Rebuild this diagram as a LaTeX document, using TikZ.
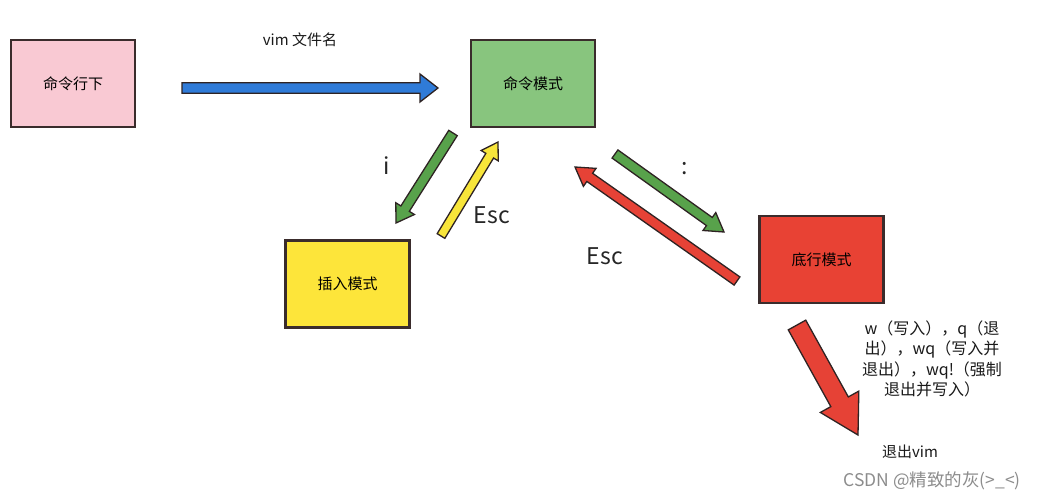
\documentclass[tikz,border=0pt]{standalone}
\usepackage{fontspec}
\setmainfont{Noto Sans CJK SC}
\usetikzlibrary{calc}
\definecolor{pinkbox}{HTML}{F9C9D3}
\definecolor{greenbox}{HTML}{88C57E}
\definecolor{yellowbox}{HTML}{FDE53A}
\definecolor{redbox}{HTML}{E84234}
\definecolor{edge}{HTML}{3A2C2C}
\definecolor{blueA}{HTML}{2F7BD8}
\definecolor{greenA}{HTML}{58A24B}
\definecolor{yellowA}{HTML}{F8E53A}
\definecolor{redA}{HTML}{E64236}
\tikzset{
  modebox/.style={draw=edge, line width=2.4pt, minimum width=124pt, minimum height=87pt, inner sep=0pt, font=\fontsize{15}{17}\selectfont},
  arrowline/.style={draw=edge!80!black, line width=1.3pt, line join=miter},
  biglabel/.style={font=\fontsize{23}{26}\selectfont, text=black!85},
  smalllabel/.style={font=\fontsize{15}{19}\selectfont, text=black!90},
}
% #1 tail, #2 tip, #3 half shaft width, #4 half head width, #5 head length, #6 fill
\newcommand\blockarr[6]{%
  \draw[arrowline, fill=#6] let \p1=(#1), \p2=(#2),
    \n1={atan2(\y2-\y1,\x2-\x1)}, \n2={veclen(\x2-\x1,\y2-\y1)} in
    ($(\p1)+(\n1+90:#3pt)$) --
    ($(\p1)+(\n1:{\n2-#5pt})+(\n1+90:#3pt)$) --
    ($(\p1)+(\n1:{\n2-#5pt})+(\n1+90:#4pt)$) --
    (\p2) --
    ($(\p1)+(\n1:{\n2-#5pt})+(\n1-90:#4pt)$) --
    ($(\p1)+(\n1:{\n2-#5pt})+(\n1-90:#3pt)$) --
    ($(\p1)+(\n1-90:#3pt)$) -- cycle;}
\begin{document}
\begin{tikzpicture}[x=1pt,y=-1pt]
\useasboundingbox (0,0) rectangle (1044,501);
% boxes
\node[modebox, fill=pinkbox] (cli) at (73,83.5) {命令行下};
\node[modebox, fill=greenbox] (cmd) at (533,83.5) {命令模式};
\node[modebox, fill=yellowbox] (ins) at (347.5,284) {插入模式};
\node[modebox, fill=redbox] (last) at (821.5,259.5) {底行模式};
% arrow endpoints
\coordinate (b1) at (182,88);   \coordinate (b2) at (438,88);
\coordinate (i1) at (453,133);  \coordinate (i2) at (396,223);
\coordinate (e1) at (441,236);  \coordinate (e2) at (498,142);
\coordinate (c1) at (615,154);  \coordinate (c2) at (724,232);
\coordinate (r1) at (737,281);  \coordinate (r2) at (575,167);
\coordinate (q1) at (797,325);  \coordinate (q2) at (858,435);
% arrows
\blockarr{b1}{b2}{5.2}{14}{18}{blueA}
\blockarr{i1}{i2}{5}{11}{17}{greenA}
\blockarr{e1}{e2}{4.5}{10}{16}{yellowA}
\blockarr{c1}{c2}{5}{11}{18}{greenA}
\blockarr{r1}{r2}{5}{11}{18}{redA}
\blockarr{q1}{q2}{10}{22}{38}{redA}
% labels
\node[smalllabel] (lvim) at (300,40) {vim 文件名};
\node[biglabel] (li) at (387,166) {i};
\node[biglabel] (lesc1) at (492,215) {Esc};
\node[biglabel] (lcolon) at (685,169) {:};
\node[biglabel] (lesc2) at (605,256) {Esc};
\node[font=\fontsize{16}{20.5}\selectfont, text=black!90, align=center] (lq) at (932,359)
  {w（写入），q（退\\出），wq（写入并\\退出），wq!（强制\\退出并写入）};
\node[smalllabel] (lquit) at (910,452) {退出vim};
\node[font=\fontsize{17.5}{20}\selectfont, text=black!45] (wm) at (932,481) {CSDN @精致的灰(>\_<)};
\end{tikzpicture}
\end{document}
